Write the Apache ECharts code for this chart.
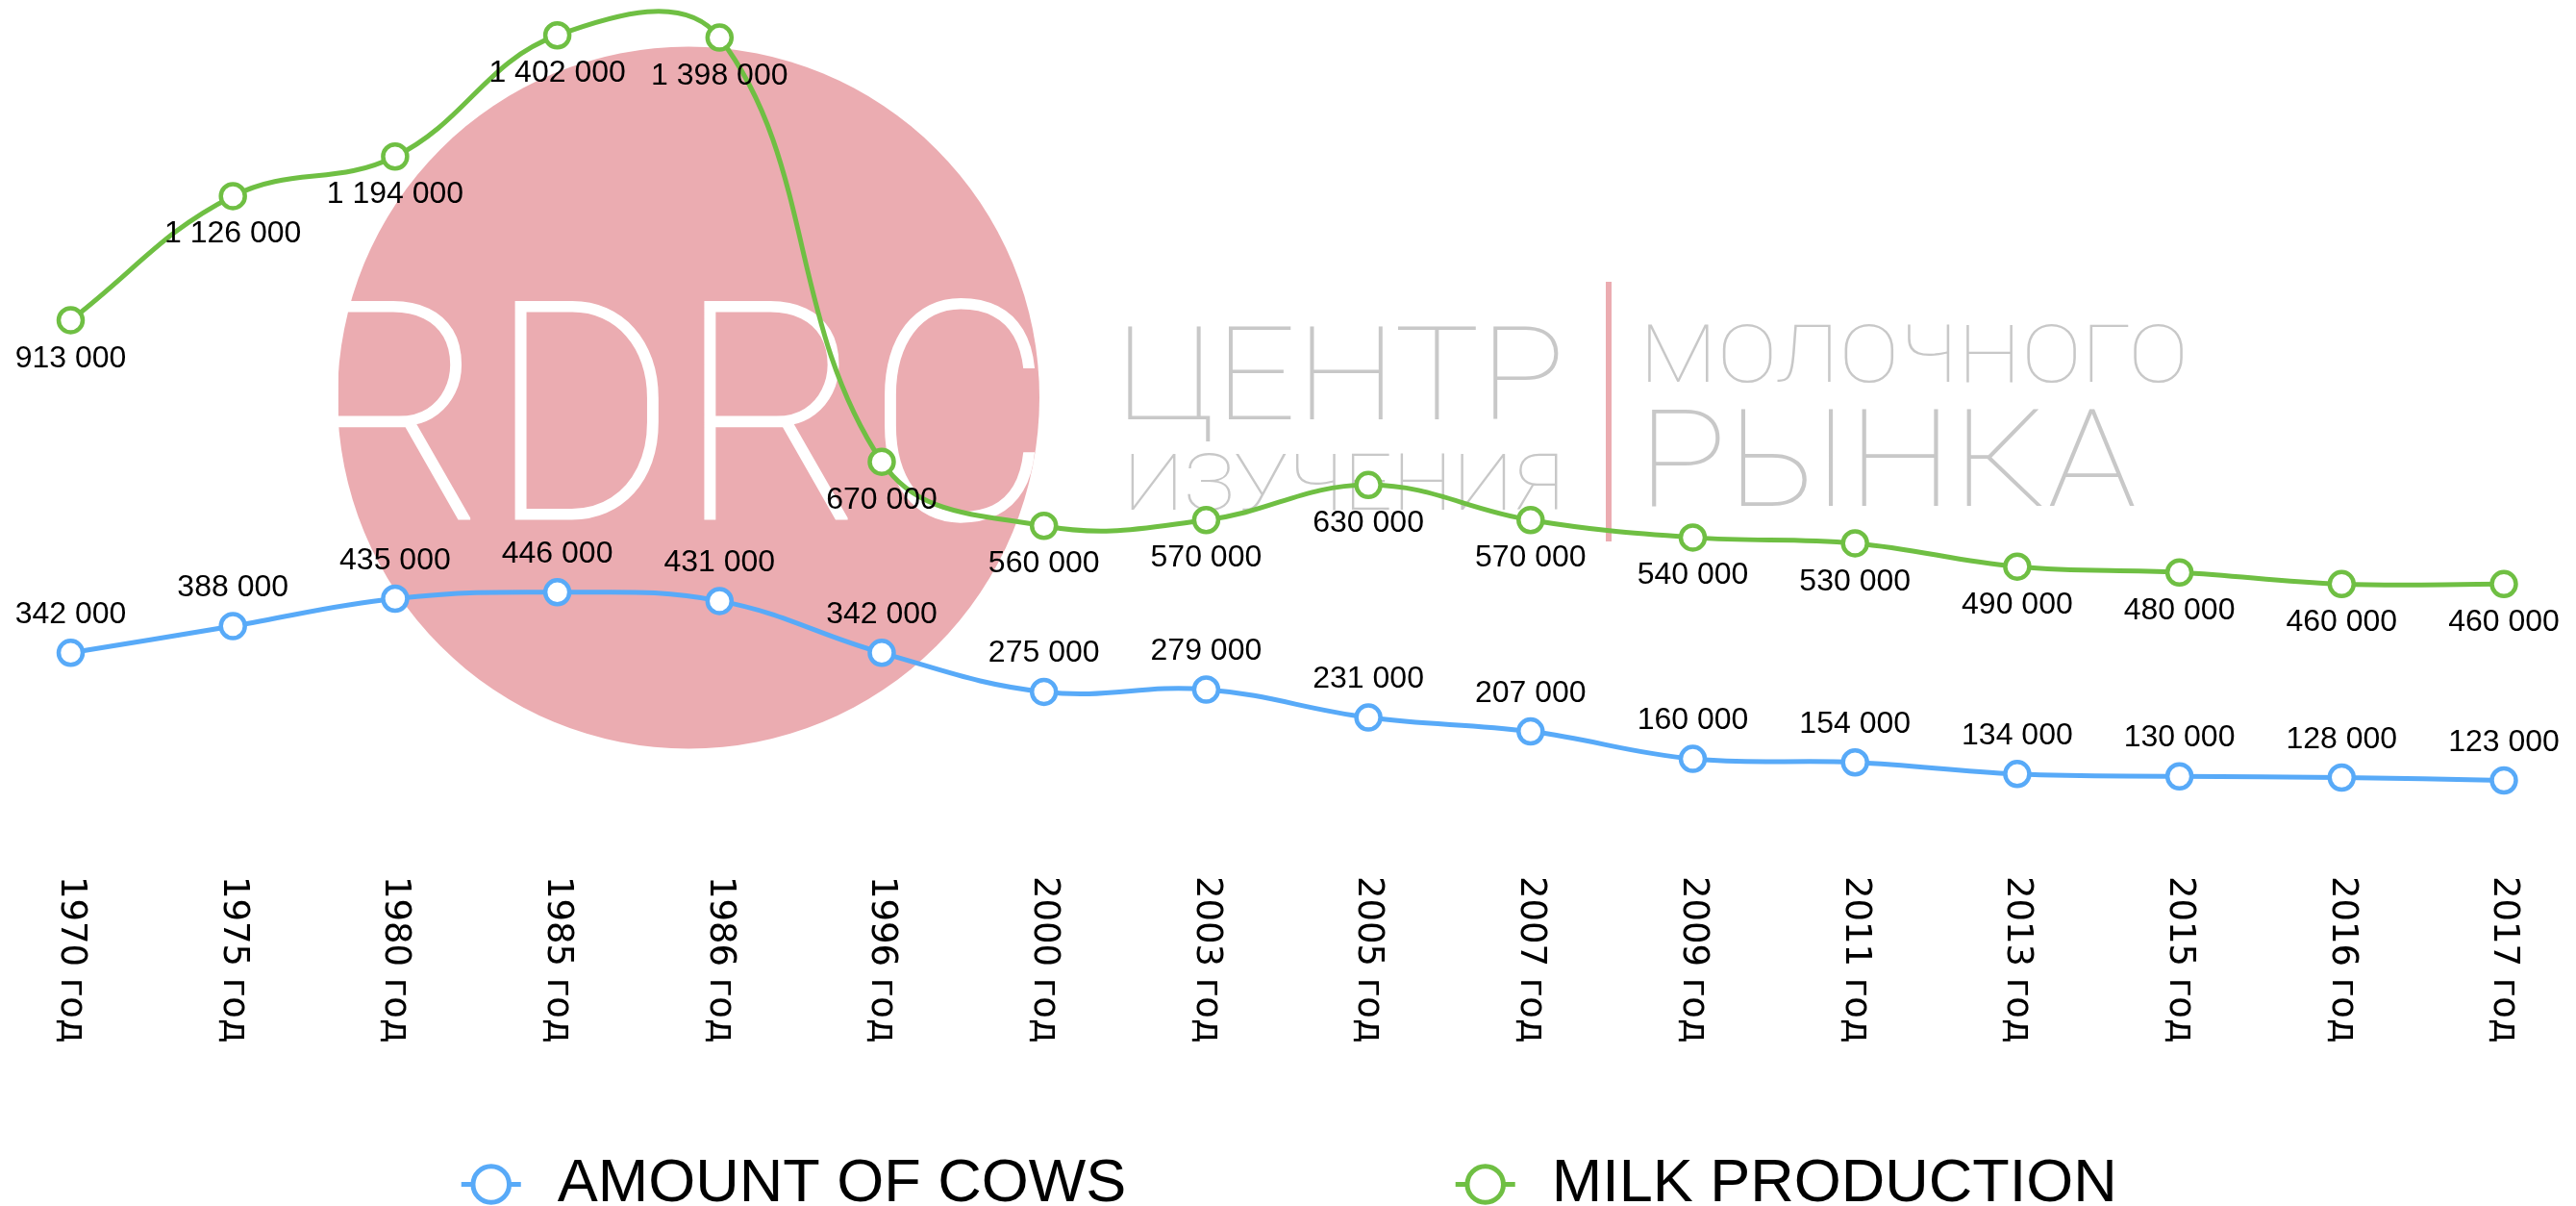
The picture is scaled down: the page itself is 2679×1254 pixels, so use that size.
<!DOCTYPE html>
<html>
<head>
<meta charset="utf-8">
<script src="https://cdn.jsdelivr.net/npm/echarts@6/dist/echarts.min.js"></script>
<style>
  html, body { margin: 0; padding: 0; background: #fff; }
  #chart { width: 2679px; height: 1254px; }
</style>
</head>
<body>
<div id="chart"></div>
<script>
// data
const years = ['1970 год', '1975 год', '1980 год', '1985 год', '1986 год', '1996 год', '2000 год', '2003 год',
  '2005 год', '2007 год', '2009 год', '2011 год', '2013 год', '2015 год', '2016 год', '2017 год']
const cows = [342000, 388000, 435000, 446000, 431000, 342000, 275000, 279000,
  231000, 207000, 160000, 154000, 134000, 130000, 128000, 123000]
const milk = [913000, 1126000, 1194000, 1402000, 1398000, 670000, 560000, 570000,
  630000, 570000, 540000, 530000, 490000, 480000, 460000, 460000]
const seriesNames = ['AMOUNT OF COWS', 'MILK PRODUCTION']

const BLUE = '#58aaf8'
const GREEN = '#6fbf43'
const PINK = '#ebacb1'
const GREY = '#c8c8c8'
const TENSION = 0.4

// "1402000" -> "1 402 000"
function fmt(v) {
  return String(v).replace(/\B(?=(\d{3})+(?!\d))/g, ' ')
}

// watermark text, stretched so it spans [left, right]; cy is the middle of the capitals
const measureCtx = document.createElement('canvas').getContext('2d')
function logoText(text, weight, size, left, right, cy, color) {
  const font = weight + ' ' + size + 'px Roboto'
  measureCtx.font = font
  const w = measureCtx.measureText(text).width
  return {
    type: 'text',
    x: left,
    y: cy + size * 0.1,
    scaleX: (right - left) / w,
    z: 1,
    silent: true,
    style: { text: text, x: 0, y: 0, font: font, fill: color, textAlign: 'left', textVerticalAlign: 'middle' }
  }
}

// spline without clamping (the echarts smooth line never overshoots, the original does)
function controlPoints(prev, cur, next, t) {
  const d01 = Math.hypot(cur[0] - prev[0], cur[1] - prev[1])
  const d12 = Math.hypot(next[0] - cur[0], next[1] - cur[1])
  let s01 = d01 / (d01 + d12)
  let s12 = d12 / (d01 + d12)
  if (isNaN(s01)) s01 = 0
  if (isNaN(s12)) s12 = 0
  const dx = next[0] - prev[0]
  const dy = next[1] - prev[1]
  return {
    before: [cur[0] - t * s01 * dx, cur[1] - t * s01 * dy],
    after: [cur[0] + t * s12 * dx, cur[1] + t * s12 * dy]
  }
}

function curveSeries(values, color) {
  return {
    type: 'custom',
    silent: true,
    z: 2,
    data: values.map((v, i) => [i, v]),
    renderItem: function (params, api) {
      const i = params.dataIndex
      const n = values.length
      if (i >= n - 1) return null
      const pt = k => api.coord([Math.min(Math.max(k, 0), n - 1), values[Math.min(Math.max(k, 0), n - 1)]])
      const a = controlPoints(pt(i - 1), pt(i), pt(i + 1), TENSION)
      const b = controlPoints(pt(i), pt(i + 1), pt(i + 2), TENSION)
      const p1 = pt(i)
      const p2 = pt(i + 1)
      return {
        type: 'bezierCurve',
        shape: {
          x1: p1[0], y1: p1[1], x2: p2[0], y2: p2[1],
          cpx1: a.after[0], cpy1: a.after[1], cpx2: b.before[0], cpy2: b.before[1]
        },
        style: { stroke: color, lineWidth: 5, fill: null, lineCap: 'round' }
      }
    }
  }
}

const chart = echarts.init(document.getElementById('chart'))

const labelStyle = {
  show: true,
  fontFamily: '"Liberation Sans", Arial, sans-serif',
  fontSize: 32,
  color: '#000',
  distance: 9,
  formatter: p => fmt(p.value)
}

const option = {
  animation: false,
  grid: { left: 73.5, right: 75, top: 36.7, bottom: 368, containLabel: false },
  legend: {
    data: seriesNames,
    left: 'center',
    top: 1195,
    itemWidth: 62,
    itemHeight: 47,
    itemGap: 340,
    lineStyle: { width: 5, opacity: 1 },
    itemStyle: { borderWidth: 5 },
    textStyle: {
      fontFamily: '"Liberation Sans", Arial, sans-serif',
      fontSize: 63,
      color: '#000',
      padding: [0, 0, 0, 33]
    }
  },
  xAxis: {
    type: 'category',
    data: years,
    boundaryGap: false,
    axisLine: { show: false },
    axisTick: { show: false },
    splitLine: { show: false },
    axisLabel: {
      rotate: -90,
      margin: 25,
      interval: 0,
      fontFamily: '"DejaVu Sans", Verdana, sans-serif',
      fontSize: 37,
      color: '#000'
    }
  },
  yAxis: {
    type: 'value',
    min: 0,
    max: 1402000,
    show: false,
    splitLine: { show: false }
  },
  graphic: [
    { type: 'circle', z: 0, silent: true, shape: { cx: 716, cy: 413.5, r: 365 }, style: { fill: PINK } },
    logoText('RDRC', 200, 320, 312, 1095, 428.5, '#fff'),
    logoText('ЦЕНТР', 100, 136, 1160, 1628, 388.5, GREY),
    logoText('ИЗУЧЕНИЯ', 100, 82, 1168, 1626, 501, GREY),
    logoText('МОЛОЧНОГО', 100, 83, 1705, 2276, 367.5, GREY),
    logoText('РЫНКА', 100, 141, 1703, 2222, 477, GREY),
    { type: 'line', z: 1, silent: true, shape: { x1: 1673, y1: 293, x2: 1673, y2: 563 }, style: { stroke: PINK, lineWidth: 6 } }
  ],
  series: [
    curveSeries(cows, BLUE),
    curveSeries(milk, GREEN),
    {
      name: seriesNames[0],
      type: 'line',
      data: cows,
      clip: false,
      symbol: 'circle',
      symbolSize: 25,
      z: 3,
      lineStyle: { color: BLUE, width: 5, opacity: 0 },
      itemStyle: { color: '#fff', borderColor: BLUE, borderWidth: 4.5 },
      label: Object.assign({ position: 'top' }, labelStyle)
    },
    {
      name: seriesNames[1],
      type: 'line',
      data: milk,
      clip: false,
      symbol: 'circle',
      symbolSize: 25,
      z: 3,
      lineStyle: { color: GREEN, width: 5, opacity: 0 },
      itemStyle: { color: '#fff', borderColor: GREEN, borderWidth: 4.5 },
      label: Object.assign({ position: 'bottom' }, labelStyle)
    }
  ]
}

chart.setOption(option)
</script>
</body>
</html>
